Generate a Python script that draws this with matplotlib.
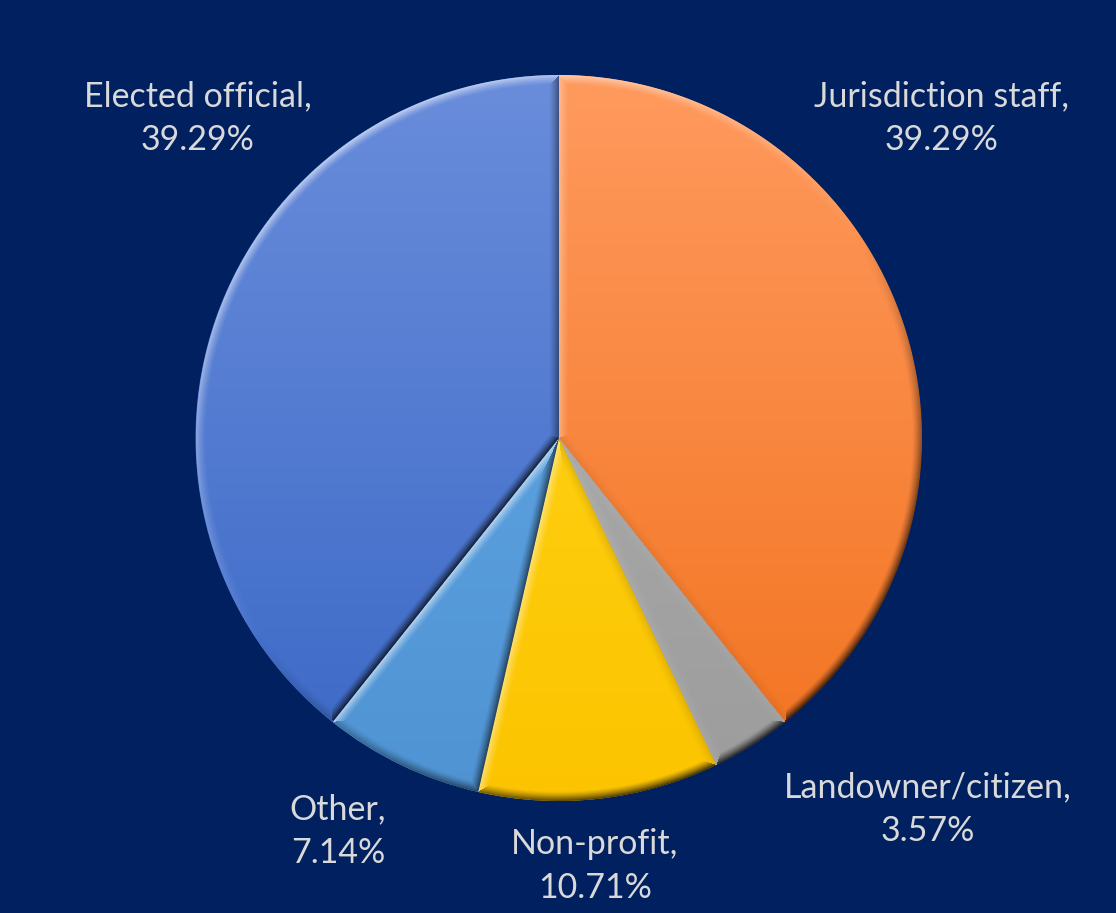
import numpy as np
import matplotlib
matplotlib.use('Agg')
import matplotlib.pyplot as plt
from matplotlib.colors import to_rgb

# ---------------- data ----------------
categories = ['Jurisdiction staff', 'Landowner/citizen', 'Non-profit', 'Other', 'Elected official']
shares = [39.29, 3.57, 10.71, 7.14, 39.29]

# ---------------- style ----------------
BG = '#002060'
TXT = '#D9D9D9'
top_colors = ['#FF9A5E', '#B2B2B2', '#FFD81E', '#66ABEA', '#6A8DDB']
bottom_colors = ['#F2721E', '#9C9C9C', '#FCC400', '#4F93D3', '#3A68C6']
label_pos = [(942, 118), (928, 809), (595, 866), (338, 831), (198, 118)]  # pixel layout

W, H = 1116, 913
fig = plt.figure(figsize=(W / 100, H / 100), dpi=100)
fig.patch.set_facecolor(BG)
ax = fig.add_axes([0, 0, 1, 1])
ax.set_facecolor(BG)

cx, cy, R = 558.5, H - 438, 363
base_cols = [tuple((np.array(to_rgb(a)) + np.array(to_rgb(b))) / 2) for a, b in zip(top_colors, bottom_colors)]
wedges, _ = ax.pie(shares, colors=base_cols, startangle=90, counterclock=False,
                   center=(cx, cy), radius=R, frame=True,
                   wedgeprops=dict(linewidth=0))
ax.set_xlim(0, W)
ax.set_ylim(0, H)
ax.set_aspect('equal')
ax.axis('off')

# ---------- bevel shading rendered per wedge ----------
pad = 3
N = int(2 * R + 2 * pad)
x0, y0 = cx - R - pad, cy - R - pad
X, Y = np.meshgrid(x0 + np.arange(N) + 0.5, y0 + np.arange(N) + 0.5)
DX, DY = X - cx, Y - cy
RR = np.hypot(DX, DY) + 1e-9
TH = np.arctan2(DY, DX)
L = np.array([-0.55, 0.83])
L = L / np.linalg.norm(L)
bw = 10.0

for w, ct, cb in zip(wedges, top_colors, bottom_colors):
    t1, t2 = np.radians(w.theta1), np.radians(w.theta2)
    span = t2 - t1
    a = np.mod(TH - t1, 2 * np.pi)
    in_ang = a <= span
    p1 = DX * np.cos(t1) + DY * np.sin(t1)
    d1 = np.where(p1 > 0, np.abs(-DX * np.sin(t1) + DY * np.cos(t1)), RR)
    p2 = DX * np.cos(t2) + DY * np.sin(t2)
    d2 = np.where(p2 > 0, np.abs(-DX * np.sin(t2) + DY * np.cos(t2)), RR)
    d_arc = R - RR
    d_ang = np.where(in_ang, np.minimum(d1, d2), -np.minimum(d1, d2))
    d = np.minimum(d_arc, d_ang)
    alpha = np.clip(d + 0.5, 0, 1)

    n1 = np.array([np.sin(t1), -np.cos(t1)])
    n2 = np.array([-np.sin(t2), np.cos(t2)])
    dot_arc = (DX / RR) * L[0] + (DY / RR) * L[1]
    dot1 = n1 @ L
    dot2 = n2 @ L
    dm = np.stack([d_arc, d1, d2])
    idx = np.argmin(dm, axis=0)
    dots = np.where(idx == 0, dot_arc, np.where(idx == 1, dot1, dot2))
    dd = np.clip(np.min(dm, axis=0), 0, None)
    prof = np.clip(1 - dd / bw, 0, 1) ** 1.3
    delta = 0.6 * dots * prof
    delta = np.where(delta < 0, delta * 1.3, delta)

    t = np.clip((Y - (cy - R)) / (2 * R), 0, 1)[..., None]
    col = np.array(to_rgb(cb)) * (1 - t) + np.array(to_rgb(ct)) * t
    dl = delta[..., None]
    col = np.where(dl > 0, col + (1 - col) * dl, col * (1 + dl))
    rgba = np.concatenate([np.clip(col, 0, 1), alpha[..., None]], axis=2)
    ax.imshow(rgba, extent=(x0, x0 + N, y0, y0 + N), origin='lower',
              interpolation='bilinear', zorder=3)

ax.set_xlim(0, W)
ax.set_ylim(0, H)

# ---------------- labels ----------------
for name, val, (px, py) in zip(categories, shares, label_pos):
    ax.text(px, H - py, f'{name},\n{val:.2f}%', ha='center', va='center',
            multialignment='center', color=TXT, fontsize=24.5,
            family=['Lato', 'DejaVu Sans'], linespacing=1.45, zorder=5)

fig.savefig('out.png', dpi=100, facecolor=BG)
